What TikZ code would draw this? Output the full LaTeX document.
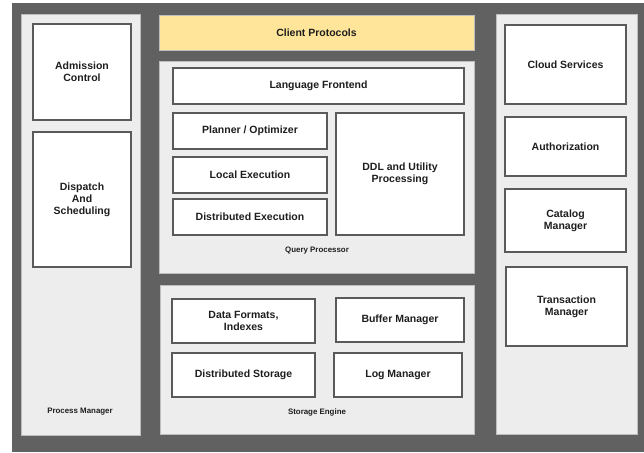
\documentclass[tikz,border=0pt]{standalone}
\usepackage{fontspec}
\setmainfont{Liberation Sans}
\usetikzlibrary{shadows}
\definecolor{bgdark}{HTML}{616161}
\definecolor{panelfill}{HTML}{EDEDED}
\definecolor{panelline}{HTML}{BDBDBD}
\definecolor{boxline}{HTML}{5A5A5A}
\definecolor{yellowfill}{HTML}{FFE599}
\definecolor{txt}{HTML}{1E1E1E}
\tikzset{
  panel/.style={draw=panelline, fill=panelfill, line width=0.8pt, inner sep=0pt,
    drop shadow={shadow xshift=1pt, shadow yshift=-1pt, fill=black, opacity=0.35}},
  box/.style={draw=boxline, fill=white, line width=1.3pt, inner sep=2pt, align=center,
    font=\fontsize{10.5}{12}\selectfont\bfseries, text=txt},
  ybox/.style={box, fill=yellowfill, draw=panelline, line width=0.8pt},
  plabel/.style={font=\fontsize{7.9}{9}\selectfont\bfseries, text=txt, inner sep=0pt}
}
\begin{document}
\begin{tikzpicture}[x=1pt, y=-1pt]
\useasboundingbox (0,0) rectangle (644,452);
\fill[bgdark] (12,3) rectangle (644,452);
% left panel
\node[panel, minimum width=119pt, minimum height=421pt] (pm) at (80.5,224.5) {};
\node[plabel] (pml) at (80,412) {Process Manager};
\node[box, minimum width=98pt, minimum height=96pt] (adm) at (82,72) {Admission\\Control};
\node[box, minimum width=98pt, minimum height=135pt] (disp) at (82,199.5) {Dispatch\\And\\Scheduling};
% client protocols
\node[ybox, minimum width=315pt, minimum height=35pt] (cp) at (316.5,32.5) {Client Protocols};
% query processor
\node[panel, minimum width=315pt, minimum height=212pt] (qp) at (316.5,167) {};
\node[plabel] (qpl) at (317,251) {Query Processor};
\node[box, minimum width=291pt, minimum height=36pt] (lf) at (318.5,86) {Language Frontend};
\node[box, minimum width=154pt, minimum height=36pt] (plan) at (250,131) {Planner / Optimizer};
\node[box, minimum width=154pt, minimum height=36pt] (lex) at (250,175) {Local Execution};
\node[box, minimum width=154pt, minimum height=36pt] (dex) at (250,217) {Distributed Execution};
\node[box, minimum width=128pt, minimum height=122pt] (ddl) at (400,174) {DDL and Utility\\Processing};
% storage engine
\node[panel, minimum width=314pt, minimum height=149pt] (se) at (317,359.5) {};
\node[plabel] (sel) at (317,412) {Storage Engine};
\node[box, minimum width=143pt, minimum height=44pt] (df) at (243.5,321) {Data Formats,\\Indexes};
\node[box, minimum width=128pt, minimum height=44pt] (bm) at (400,320) {Buffer Manager};
\node[box, minimum width=143pt, minimum height=44pt] (ds) at (243.5,375) {Distributed Storage};
\node[box, minimum width=128pt, minimum height=44pt] (lm) at (398,375) {Log Manager};
% right panel
\node[panel, minimum width=141pt, minimum height=420pt] (rp) at (566.5,224) {};
\node[box, minimum width=121pt, minimum height=79pt] (cs) at (565.5,64.5) {Cloud Services};
\node[box, minimum width=121pt, minimum height=59pt] (au) at (565.5,146.5) {Authorization};
\node[box, minimum width=121pt, minimum height=63pt] (cm) at (565.5,220.5) {Catalog\\Manager};
\node[box, minimum width=121pt, minimum height=79pt] (tm) at (566.5,306.5) {Transaction\\Manager};
\end{tikzpicture}
\end{document}
